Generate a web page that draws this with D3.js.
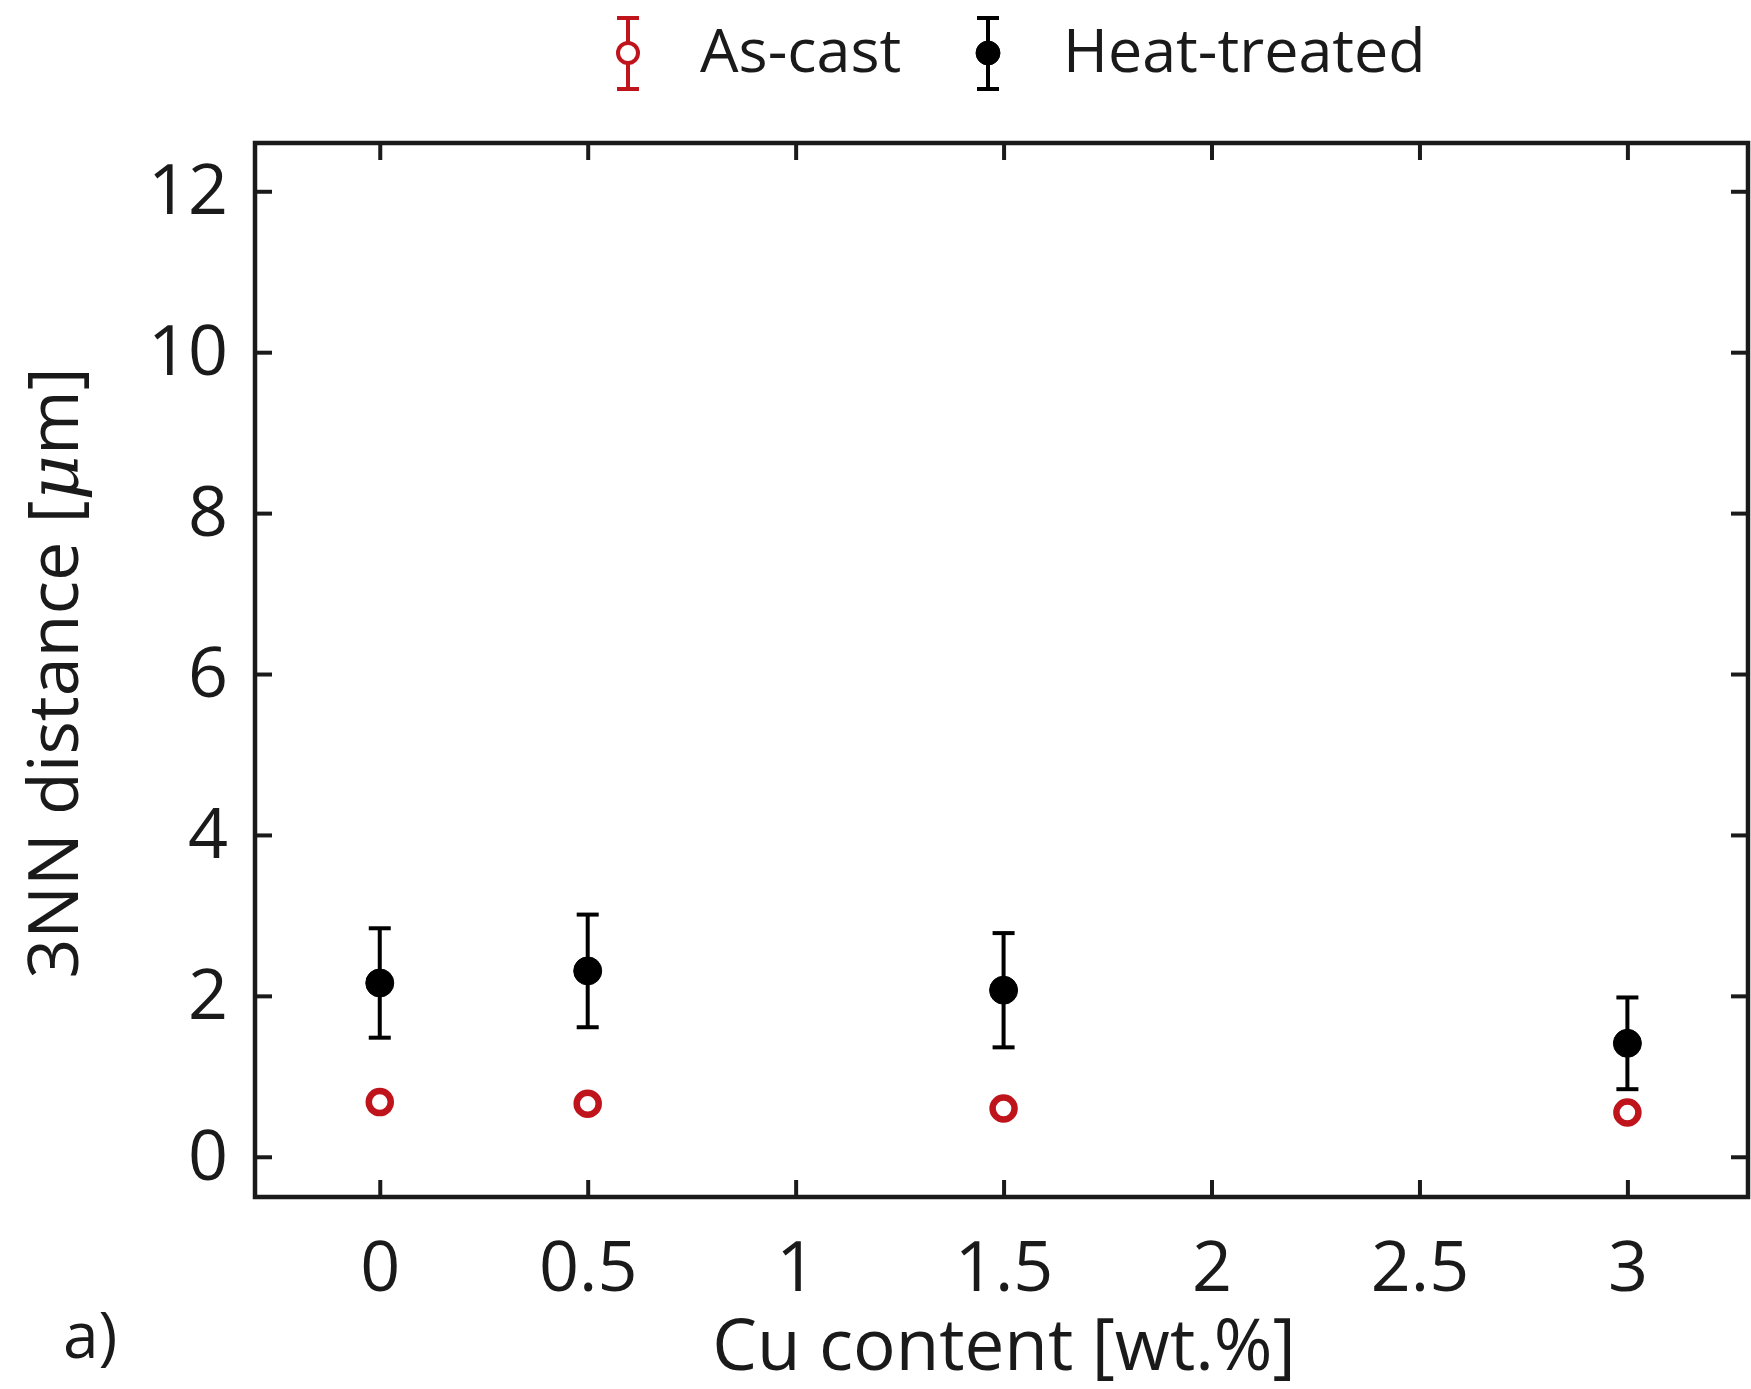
<!DOCTYPE html>
<html>
<head>
<meta charset="utf-8">
<script src="https://cdn.jsdelivr.net/npm/d3@7"></script>
<style>
  html, body { margin: 0; padding: 0; background: #fff; }
  svg { display: block; }
  text { font-family: "Open Sans", "Noto Sans", sans-serif; fill: #1a1a1a; }
</style>
</head>
<body>
<svg id="chart" width="1751" height="1389"></svg>
<script>
// ---- data ----
const cuContent = [0, 0.5, 1.5, 3];
const asCastMean = [0.68, 0.66, 0.60, 0.55];
const asCastErr = [0.09, 0.05, 0.04, 0.04];
const heatMean = [2.16, 2.31, 2.07, 1.41];
const heatErr = [0.68, 0.70, 0.71, 0.57];
const xTicks = [0, 0.5, 1, 1.5, 2, 2.5, 3];
const yTicks = [0, 2, 4, 6, 8, 10, 12];
const seriesNames = ["As-cast", "Heat-treated"];
const xTitle = "Cu content [wt.%]";
const panelLabel = "a)";

const RED = "#c0141c";
const INK = "#1a1a1a";

const svg = d3.select("#chart");
const pLeft = 255, pRight = 1748, pTop = 143, pBottom = 1197;

const x = d3.scaleLinear().domain([-0.3, 3.29]).range([pLeft, pRight]);
const y = d3.scaleLinear().domain([-0.5, 12.6]).range([pBottom, pTop]);

const TICK = 17, TW = 4, FS = 70;

function styleAxis(g) {
  g.select(".domain").remove();
  g.selectAll(".tick line").attr("stroke", INK).attr("stroke-width", TW);
  g.selectAll(".tick text").attr("font-size", FS).attr("fill", INK)
    .style("font-family", '"Open Sans", sans-serif');
}

// axes with inward ticks on all four sides
svg.append("g").attr("transform", `translate(0,${pBottom})`)
  .call(d3.axisBottom(x).tickValues(xTicks).tickSize(-TICK).tickPadding(44).tickFormat(d3.format("")))
  .call(styleAxis);
svg.append("g").attr("transform", `translate(0,${pTop})`)
  .call(d3.axisTop(x).tickValues(xTicks).tickSize(-TICK).tickFormat(""))
  .call(styleAxis);
svg.append("g").attr("transform", `translate(${pLeft},0)`)
  .call(d3.axisLeft(y).tickValues(yTicks).tickSize(-TICK).tickPadding(27).tickFormat(d3.format("d")))
  .call(styleAxis);
svg.append("g").attr("transform", `translate(${pRight},0)`)
  .call(d3.axisRight(y).tickValues(yTicks).tickSize(-TICK).tickFormat(""))
  .call(styleAxis);

// frame
svg.append("rect")
  .attr("x", pLeft).attr("y", pTop)
  .attr("width", pRight - pLeft).attr("height", pBottom - pTop)
  .attr("fill", "none").attr("stroke", INK).attr("stroke-width", 4.5);

// error bars + markers
function drawSeries(means, errs, color, filled, r, capHalf) {
  const g = svg.append("g");
  cuContent.forEach((c, i) => {
    const cx = x(c);
    const y0 = y(means[i] - errs[i]), y1 = y(means[i] + errs[i]);
    g.append("line").attr("x1", cx).attr("x2", cx).attr("y1", y0).attr("y2", y1)
      .attr("stroke", color).attr("stroke-width", 4);
    [y0, y1].forEach(yy => g.append("line")
      .attr("x1", cx - capHalf).attr("x2", cx + capHalf).attr("y1", yy).attr("y2", yy)
      .attr("stroke", color).attr("stroke-width", 4));
    g.append("circle").attr("cx", cx).attr("cy", y(means[i])).attr("r", r)
      .attr("fill", filled ? color : "#fff")
      .attr("stroke", color).attr("stroke-width", filled ? 1 : 6.5);
  });
}
drawSeries(heatMean, heatErr, "#000", true, 14, 11);
drawSeries(asCastMean, asCastErr, RED, false, 11, 11);

// legend
const legend = [
  { name: seriesNames[0], color: RED, filled: false, mx: 628, tx: 700 },
  { name: seriesNames[1], color: "#000", filled: true, mx: 988, tx: 1063 }
];
const lg = svg.append("g");
legend.forEach(l => {
  const cy = 53;
  lg.append("line").attr("x1", l.mx).attr("x2", l.mx).attr("y1", 18).attr("y2", 89)
    .attr("stroke", l.color).attr("stroke-width", 4);
  [18, 89].forEach(yy => lg.append("line")
    .attr("x1", l.mx - 11).attr("x2", l.mx + 11).attr("y1", yy).attr("y2", yy)
    .attr("stroke", l.color).attr("stroke-width", 4));
  lg.append("circle").attr("cx", l.mx).attr("cy", cy).attr("r", l.filled ? 12 : 10)
    .attr("fill", l.filled ? l.color : "#fff").attr("stroke", l.color)
    .attr("stroke-width", l.filled ? 1 : 4);
  lg.append("text").attr("x", l.tx).attr("y", 72).attr("font-size", 61).text(l.name);
});

// axis titles
svg.append("text").attr("x", 1004).attr("y", 1370).attr("text-anchor", "middle")
  .attr("font-size", 71).text(xTitle);

const yt = svg.append("text").attr("transform", "translate(78,673) rotate(-90)")
  .attr("text-anchor", "middle").attr("font-size", FS);
yt.append("tspan").text("3NN distance [");
yt.append("tspan").style("font-family", '"DejaVu Serif", serif').style("font-style", "italic").text("μ");
yt.append("tspan").text("m]");

svg.append("text").attr("x", 63).attr("y", 1358).attr("font-size", 64).text(panelLabel);
</script>
</body>
</html>
